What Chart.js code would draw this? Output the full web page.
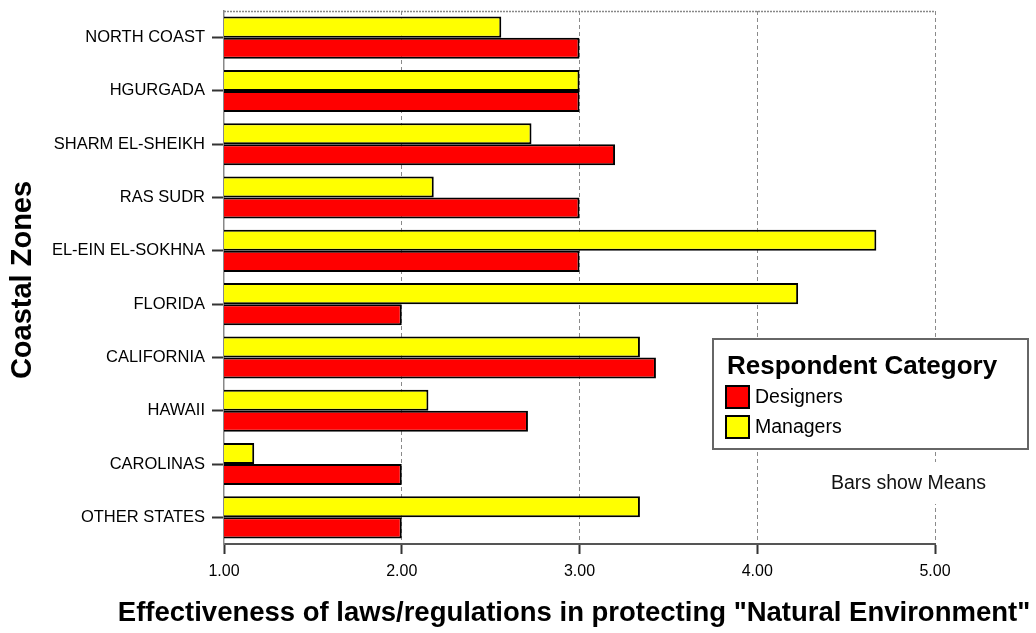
<!DOCTYPE html>
<html>
<head>
<meta charset="utf-8">
<script src="https://cdn.jsdelivr.net/npm/chart.js@4.4.1/dist/chart.umd.min.js"></script>
<style>
  html, body { margin: 0; padding: 0; background: #fff; }
  canvas { display: block; }
</style>
</head>
<body>
<canvas id="chart" width="1036" height="633"></canvas>
<script>
const zones = [
    "NORTH COAST", "HGURGADA", "SHARM EL-SHEIKH", "RAS SUDR", "EL-EIN EL-SOKHNA",
    "FLORIDA", "CALIFORNIA", "HAWAII", "CAROLINAS", "OTHER STATES"
];
const managers = [2.56, 3.0, 2.73, 2.18, 4.67, 4.23, 3.34, 2.15, 1.17, 3.34];
const designers = [3.0, 3.0, 3.2, 3.0, 3.0, 2.0, 3.43, 2.71, 2.0, 2.0];
const xTicks = [1, 2, 3, 4, 5];

const xTitle = 'Effectiveness of laws/regulations in protecting "Natural Environment"';
const yTitle = "Coastal Zones";
const legendTitle = "Respondent Category";
const note = "Bars show Means";

const FONT = "'Liberation Sans', Arial, sans-serif";

// titles, frame top, legend box and the note
const extras = {
    id: "extras",
    afterDraw(chart) {
        const { ctx, chartArea } = chart;
        ctx.save();

        // dotted top frame
        ctx.strokeStyle = "#888";
        ctx.lineWidth = 1.5;
        ctx.setLineDash([2, 1]);
        ctx.beginPath();
        ctx.moveTo(chartArea.left, chartArea.top + 0.5);
        ctx.lineTo(chartArea.right, chartArea.top + 0.5);
        ctx.stroke();
        ctx.setLineDash([]);

        ctx.fillStyle = "#000";
        ctx.textBaseline = "middle";

        // x title
        ctx.font = "bold 27.5px " + FONT;
        ctx.textAlign = "center";
        ctx.fillText(xTitle, 574, 613);

        // y title
        ctx.save();
        ctx.translate(23, 280);
        ctx.rotate(-Math.PI / 2);
        ctx.font = "bold 29px " + FONT;
        ctx.fillText(yTitle, 0, 0);
        ctx.restore();

        // legend box
        const bx = 713, by = 339, bw = 315, bh = 110;
        ctx.fillStyle = "#fff";
        ctx.fillRect(bx, by, bw, bh);
        ctx.strokeStyle = "#666";
        ctx.lineWidth = 2;
        ctx.strokeRect(bx, by, bw, bh);

        ctx.fillStyle = "#000";
        ctx.textAlign = "left";
        ctx.font = "bold 26px " + FONT;
        ctx.fillText(legendTitle, 727, 367);

        const items = chart.data.datasets.slice().reverse();
        ctx.font = "19.5px " + FONT;
        items.forEach((ds, i) => {
            const y = 386 + i * 30;
            ctx.fillStyle = ds.backgroundColor;
            ctx.fillRect(726, y, 23, 22);
            ctx.strokeStyle = "#000";
            ctx.lineWidth = 2;
            ctx.strokeRect(726, y, 23, 22);
            ctx.fillStyle = "#000";
            ctx.fillText(ds.label, 755, y + 12);
        });

        // note with white backing that breaks the frame line
        ctx.fillStyle = "#fff";
        ctx.fillRect(826, 462, 176, 42);
        ctx.fillStyle = "#111";
        ctx.font = "19.5px " + FONT;
        ctx.fillText(note, 831, 484);

        ctx.restore();
    }
};

new Chart(document.getElementById("chart"), {
    type: "bar",
    data: {
        labels: zones,
        datasets: [
            {
                label: "Managers",
                data: managers,
                backgroundColor: "#ffff00",
                borderColor: "#000",
                borderWidth: 2,
                categoryPercentage: 0.79,
                barPercentage: 1.0
            },
            {
                label: "Designers",
                data: designers,
                backgroundColor: "#ff0000",
                borderColor: "#000",
                borderWidth: 2,
                categoryPercentage: 0.79,
                barPercentage: 1.0
            }
        ]
    },
    options: {
        indexAxis: "y",
        responsive: false,
        animation: false,
        layout: { padding: { top: 11, right: 101, left: 0, bottom: 0 } },
        plugins: {
            legend: { display: false },
            tooltip: { enabled: false }
        },
        scales: {
            x: {
                min: xTicks[0],
                max: xTicks[xTicks.length - 1],
                afterBuildTicks: (scale) => {
                    scale.ticks = xTicks.map((v) => ({ value: v }));
                },
                afterFit: (scale) => {
                    scale.height = 89;
                    scale.paddingLeft = 0;
                    scale.paddingRight = 0;
                },
                ticks: {
                    color: "#000",
                    font: { family: FONT, size: 16 },
                    padding: 8,
                    callback: (v) => Number(v).toFixed(2)
                },
                grid: {
                    color: (c) => (c.tick && c.tick.value === 1 ? "rgba(0,0,0,0)" : "#8a8a8a"),
                    lineWidth: 1,
                    tickLength: 10,
                    tickColor: "#333",
                    tickWidth: 2
                },
                border: { display: true, color: "#555", width: 2, dash: [4, 3] }
            },
            y: {
                afterFit: (scale) => {
                    scale.width = 224;
                    scale.paddingTop = 0;
                    scale.paddingBottom = 0;
                },
                ticks: {
                    color: "#000",
                    font: { family: FONT, size: 16.5 },
                    padding: 7
                },
                grid: {
                    offset: false,
                    drawOnChartArea: false,
                    tickLength: 12,
                    tickColor: "#333",
                    tickWidth: 2
                },
                border: { display: true, color: "#888", width: 1.5 }
            }
        }
    },
    plugins: [extras]
});
</script>
</body>
</html>
